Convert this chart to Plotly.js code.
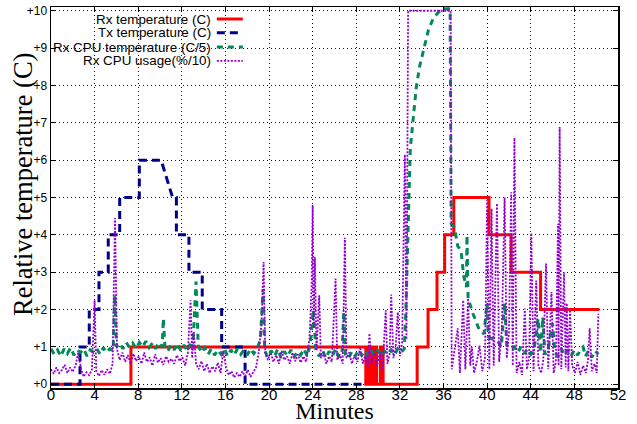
<!DOCTYPE html>
<html>
<head>
<meta charset="utf-8">
<script src="https://cdn.plot.ly/plotly-3.0.1.min.js"></script>
<style>html,body{margin:0;padding:0;background:#fff;}#chart{width:637px;height:424px;}</style>
</head>
<body>
<div id="chart"></div>
<script>
// ---- Data ----
const seriesNames = ["Rx temperature (C)", "Tx temperature (C)", "Rx CPU temperature (C/5)", "Rx CPU usage(%/10)"];

const rxTempMin = [0, 7.33, 7.33, 28.87, 28.87, 28.95, 28.95, 29.05, 29.05, 29.15, 29.15, 29.25, 29.25, 29.35, 29.35, 29.47, 29.47, 29.7, 29.7, 29.85, 29.85, 30.2, 30.2, 30.3, 30.3, 30.4, 30.4, 30.46, 30.46, 33.58, 33.58, 34.58, 34.58, 35.4, 35.4, 36.1, 36.1, 36.94, 36.94, 40.17, 40.17, 42.2, 42.2, 44.9, 44.9, 50.3];
const rxTemp    = [0, 0, 1, 1, 0, 0, 1, 1, 0, 0, 1, 1, 0, 0, 1, 1, 0, 0, 1, 1, 0, 0, 1, 1, 0, 0, 1, 1, 0, 0, 1, 1, 2, 2, 3, 3, 4, 4, 5, 5, 4, 4, 3, 3, 2, 2];

const txTempMin = [0, 2.66, 2.66, 3.51, 3.51, 4.4, 4.4, 5.25, 5.25, 6.3, 6.3, 8.1, 8.1, 10.1, 11.15, 11.5, 11.5, 12.65, 12.65, 13.87, 13.87, 15.65, 15.65, 17.8, 17.8, 28.8];
const txTemp    = [0, 0, 1, 1, 2, 2, 3, 3, 4, 4, 5, 5, 6, 6, 5, 5, 4, 4, 3, 3, 2, 2, 1, 1, 0, 0];

const cpuTempMin = [0.0, 0.3, 0.6, 0.9, 1.2, 1.5, 1.8, 2.1, 2.4, 2.7, 3.0, 3.3, 3.6, 3.9, 4.2, 4.5, 4.8, 5.1, 5.4, 5.7, 5.85, 6.0, 6.3, 6.6, 6.9, 7.2, 7.5, 7.8, 8.1, 8.4, 8.7, 9.0, 9.3, 9.6, 9.9, 10.2, 10.3, 10.45, 10.7, 11.0, 11.3, 11.6, 11.9, 12.2, 12.5, 12.8, 13.0, 13.3, 13.5, 13.8, 14.1, 14.4, 14.7, 15.0, 15.3, 15.6, 15.9, 16.2, 16.5, 16.8, 17.1, 17.4, 17.7, 18.0, 18.3, 18.6, 18.9, 19.2, 19.45, 19.6, 19.9, 20.2, 20.5, 20.8, 21.1, 21.4, 21.7, 22.0, 22.3, 22.6, 22.9, 23.2, 23.5, 23.8, 24.05, 24.3, 24.6, 24.9, 25.2, 25.5, 25.8, 26.1, 26.4, 26.7, 26.85, 27.0, 27.3, 27.6, 27.9, 28.2, 28.5, 28.8, 29.1, 29.4, 29.7, 30.0, 30.3, 30.6, 30.9, 31.2, 31.5, 31.8, 32.1, 32.4, 32.55, 32.7, 32.85, 32.95, 33.2, 33.5, 33.8, 34.2, 34.6, 35.06, 35.5, 35.9, 36.6, 36.7, 37.0, 37.3, 37.6, 37.85, 38.1, 38.15, 38.25, 38.7, 39.0, 39.3, 39.7, 40.0, 40.1, 40.5, 41.0, 41.3, 41.6, 41.8, 42.1, 42.5, 42.8, 43.1, 43.4, 43.7, 44.0, 44.3, 44.67, 44.9, 45.1, 45.3, 45.6, 46.0, 46.2, 46.5, 46.8, 47.1, 47.4, 47.7, 48.0, 48.3, 48.6, 48.8, 49.0, 49.3, 49.6, 49.9, 50.2];
const cpuTemp    = [0.95, 0.80, 0.92, 0.75, 0.95, 0.82, 0.98, 0.78, 0.92, 0.85, 0.95, 0.75, 0.92, 0.85, 0.95, 0.80, 0.98, 0.85, 0.95, 0.90, 2.38, 1.00, 1.10, 0.95, 1.12, 0.98, 1.10, 0.95, 1.12, 1.00, 1.15, 0.98, 1.10, 0.95, 1.12, 1.00, 1.76, 1.00, 0.88, 1.05, 0.92, 1.10, 0.90, 1.05, 0.88, 1.10, 0.95, 2.75, 1.05, 0.85, 0.98, 0.80, 0.95, 0.78, 0.92, 0.80, 0.95, 0.75, 0.92, 0.78, 0.95, 0.80, 0.92, 0.78, 0.95, 0.82, 0.95, 1.20, 2.55, 0.90, 0.72, 0.90, 0.75, 0.95, 0.70, 0.88, 0.75, 0.92, 0.72, 0.88, 0.78, 0.95, 0.75, 1.10, 2.00, 0.90, 0.75, 0.92, 0.70, 0.88, 0.75, 0.95, 0.72, 0.90, 1.93, 0.80, 0.70, 0.88, 0.75, 0.92, 0.78, 0.90, 0.72, 0.88, 0.78, 0.92, 0.75, 0.88, 0.80, 0.92, 0.78, 0.95, 0.85, 0.95, 2.0, 3.6, 5.5, 6.3, 7.06, 7.95, 8.5, 9.0, 9.47, 9.8, 9.95, 10.05, 10.05, 4.3, 4.2, 3.7, 3.58, 2.9, 2.6, 3.99, 2.3, 1.89, 1.65, 1.44, 1.35, 2.17, 1.27, 1.2, 1.13, 1.0, 2.17, 1.05, 0.95, 1.0, 0.85, 1.0, 0.82, 0.95, 0.80, 0.92, 1.76, 0.85, 1.8, 0.80, 0.95, 1.63, 0.85, 0.75, 0.95, 0.78, 0.92, 0.75, 0.92, 0.78, 0.95, 1.0, 0.75, 0.90, 0.72, 0.90, 0.80];

const cpuUsageMin = [0.0, 0.25, 0.5, 0.75, 1.0, 1.25, 1.5, 1.75, 2.0, 2.25, 2.5, 2.75, 3.0, 3.25, 3.5, 3.75, 4.0, 4.15, 4.4, 4.65, 4.9, 5.15, 5.4, 5.65, 5.87, 6.05, 6.3, 6.55, 6.8, 7.05, 7.3, 7.55, 7.8, 8.05, 8.3, 8.55, 8.8, 9.05, 9.3, 9.55, 9.8, 10.05, 10.3, 10.55, 10.8, 11.05, 11.3, 11.55, 11.8, 12.05, 12.3, 12.55, 12.8, 12.95, 13.1, 13.3, 13.55, 13.8, 14.05, 14.3, 14.55, 14.8, 15.05, 15.3, 15.55, 15.8, 16.05, 16.3, 16.55, 16.8, 17.05, 17.3, 17.55, 17.8, 18.05, 18.3, 18.55, 18.8, 19.05, 19.3, 19.5, 19.65, 19.9, 20.15, 20.4, 20.65, 20.9, 21.15, 21.4, 21.65, 21.9, 22.15, 22.4, 22.65, 22.9, 23.15, 23.4, 23.7, 23.9, 24.0, 24.1, 24.2, 24.35, 24.6, 24.75, 25.0, 25.25, 25.5, 25.75, 26.1, 26.25, 26.5, 26.75, 26.95, 27.1, 27.35, 27.6, 27.85, 28.1, 28.35, 28.6, 28.85, 29.05, 29.2, 29.4, 29.65, 29.9, 30.15, 30.4, 30.7, 30.85, 31.05, 31.2, 31.4, 31.6, 31.8, 32.0, 32.2, 32.45, 32.6, 32.75, 36.65, 36.75, 37.0, 37.3, 37.5, 37.8, 38.0, 38.25, 38.45, 38.6, 38.8, 39.05, 39.3, 39.55, 39.8, 40.0, 40.2, 40.4, 40.6, 40.9, 41.1, 41.35, 41.6, 41.8, 42.0, 42.2, 42.35, 42.5, 42.7, 42.95, 43.2, 43.45, 43.65, 43.85, 44.05, 44.25, 44.5, 44.7, 44.95, 45.15, 45.4, 45.6, 45.9, 46.1, 46.3, 46.5, 46.55, 46.65, 46.8, 47.05, 47.2, 47.3, 47.45, 47.6, 47.8, 48.05, 48.3, 48.55, 48.8, 49.05, 49.25, 49.4, 49.6, 49.85, 50.05, 50.2];
const cpuUsage    = [0.40, 0.28, 0.45, 0.30, 0.38, 0.52, 0.30, 0.45, 0.33, 0.50, 0.85, 0.42, 0.20, 0.32, 0.24, 0.38, 2.25, 0.35, 0.22, 0.38, 0.25, 0.40, 0.28, 0.55, 4.45, 0.95, 0.65, 0.85, 0.60, 0.78, 0.55, 0.82, 0.62, 0.75, 0.55, 0.85, 0.60, 0.72, 0.50, 0.80, 0.58, 0.70, 0.52, 0.75, 0.60, 0.68, 0.55, 0.78, 0.62, 0.72, 0.50, 0.85, 2.25, 0.70, 1.40, 0.55, 0.40, 0.62, 0.35, 0.55, 0.30, 0.48, 0.35, 0.58, 0.30, 0.90, 0.45, 0.25, 0.35, 0.18, 0.30, 0.20, 0.35, 0.22, 0.38, 0.20, 0.32, 0.45, 0.85, 1.60, 3.27, 0.80, 0.65, 0.85, 0.60, 0.78, 0.55, 0.90, 0.65, 0.75, 0.55, 0.85, 0.62, 0.80, 0.58, 0.75, 0.60, 1.20, 2.60, 4.80, 1.50, 3.40, 0.90, 2.38, 0.70, 0.85, 0.55, 0.75, 0.60, 2.83, 0.65, 0.80, 0.55, 3.92, 0.70, 0.85, 0.55, 0.78, 0.60, 1.00, 0.55, 0.80, 0.45, 1.36, 0.55, 0.90, 0.50, 0.85, 0.40, 1.98, 0.55, 0.80, 2.40, 0.70, 0.95, 1.93, 0.75, 1.10, 6.15, 1.20, 10.0, 10.0, 0.40, 0.90, 1.50, 0.30, 2.25, 0.40, 2.30, 0.50, 1.00, 0.30, 0.60, 1.04, 0.35, 0.70, 4.93, 0.40, 4.70, 0.50, 4.84, 0.60, 1.50, 5.00, 0.70, 1.40, 5.14, 0.50, 6.60, 0.30, 0.60, 0.25, 2.03, 0.40, 0.70, 4.05, 0.35, 2.78, 0.50, 0.30, 0.65, 3.23, 0.40, 2.47, 0.30, 0.60, 4.30, 0.50, 6.89, 0.40, 3.00, 0.45, 2.17, 0.35, 2.00, 0.50, 0.30, 0.60, 0.25, 0.50, 0.30, 0.65, 1.50, 0.35, 0.55, 0.30, 1.89];

const xTickVals = [0, 4, 8, 12, 16, 20, 24, 28, 32, 36, 40, 44, 48, 52];
const xTickText = ["0", "4", "8", "12", "16", "20", "24", "28", "32", "36", "40", "44", "48", "52"];
const yTickVals = [0, 1, 2, 3, 4, 5, 6, 7, 8, 9, 10];
const yTickText = ["+0", "+1", "+2", "+3", "+4", "+5", "+6", "+7", "+8", "+9", "+10"];

// ---- Styles ----
const colors = ["#ff0000", "#00008b", "#008a5a", "#9400d3"];
const dashes = ["solid", "8px,5px", "6px,5px", "2px,1.5px"];
const widths = [3, 3, 3, 1.8];

const traces = [
  {x: rxTempMin, y: rxTemp},
  {x: txTempMin, y: txTemp},
  {x: cpuTempMin, y: cpuTemp},
  {x: cpuUsageMin, y: cpuUsage}
].map((d, i) => ({
  x: d.x, y: d.y, type: "scatter", mode: "lines", name: seriesNames[i],
  line: {color: colors[i], width: widths[i], dash: dashes[i]},
  showlegend: false, hoverinfo: "skip"
}));

// custom gnuplot-style key: right-aligned text with sample line to its right
const W = 637, H = 424, mL = 51, mR = 18.5, mT = 7, mB = 36;
const pw = W - mL - mR, ph = H - mT - mB;
const px = v => (v - mL) / pw;
const py = v => (H - mB - v) / ph;
const rowY = [19, 32.8, 47, 60.8];

const annotations = seriesNames.map((t, i) => ({
  text: t, xref: "paper", yref: "paper", x: px(212), y: py(rowY[i]),
  xanchor: "right", yanchor: "middle", showarrow: false, borderpad: 0,
  font: {family: "Liberation Sans, Arial, sans-serif", size: 13.4, color: "#000"}
}));
annotations.push({
  text: "Relative temperature (C)", xref: "paper", yref: "paper",
  x: px(23), y: py(185), xanchor: "center", yanchor: "middle", textangle: -90,
  showarrow: false, font: {family: "Liberation Serif, Times New Roman, serif", size: 26.5, color: "#000"}
});

const shapes = [{
  type: "rect", xref: "paper", yref: "paper", layer: "between",
  x0: 0.002, x1: px(248), y0: py(67), y1: py(12),
  fillcolor: "#ffffff", line: {width: 0}
}];
seriesNames.forEach((t, i) => shapes.push({
  type: "line", xref: "paper", yref: "paper",
  x0: px(217), x1: px(243), y0: py(rowY[i]), y1: py(rowY[i]),
  line: {color: colors[i], width: widths[i], dash: dashes[i]}
}));

const axisCommon = {
  showline: true, mirror: "ticks", linecolor: "#000", linewidth: 1.5,
  ticks: "inside", ticklen: 5, tickcolor: "#000", tickwidth: 1,
  showgrid: true, gridcolor: "#111", gridwidth: 1, griddash: "1px,3px",
  zeroline: false, fixedrange: true
};

const layout = {
  width: W, height: H,
  margin: {l: mL, r: mR, t: mT, b: mB, pad: 0},
  paper_bgcolor: "#fff", plot_bgcolor: "#fff",
  showlegend: false,
  xaxis: Object.assign({}, axisCommon, {
    range: [0, 52], tickmode: "array", tickvals: xTickVals, ticktext: xTickText,
    ticklabelstandoff: -8,
    tickfont: {family: "Liberation Sans, Arial, sans-serif", size: 15, color: "#000"},
    title: {text: "Minutes", standoff: 3,
      font: {family: "Liberation Serif, Times New Roman, serif", size: 24, color: "#000"}}
  }),
  yaxis: Object.assign({}, axisCommon, {
    range: [-0.1, 10.1], tickmode: "array", tickvals: yTickVals, ticktext: yTickText,
    tickfont: {family: "Liberation Sans, Arial, sans-serif", size: 12, color: "#000"}
  }),
  annotations: annotations,
  shapes: shapes
};

Plotly.newPlot("chart", traces, layout, {displayModeBar: false, staticPlot: true});
</script>
</body>
</html>
